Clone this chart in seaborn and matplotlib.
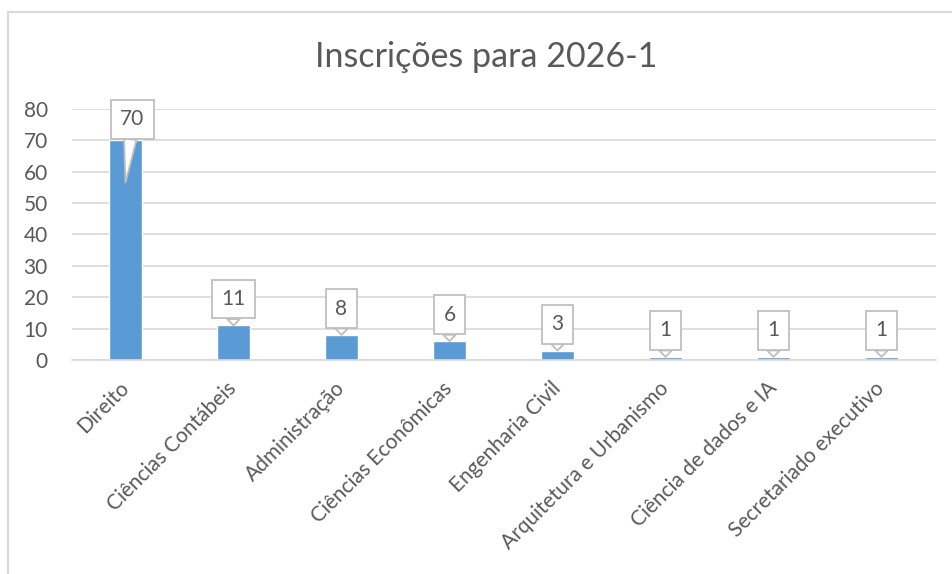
import matplotlib
matplotlib.use("Agg")
import matplotlib.pyplot as plt
from matplotlib.lines import Line2D
import seaborn as sns
import pandas as pd

cursos = [
    "Direito",
    "Ciências Contábeis",
    "Administração",
    "Ciências Econômicas",
    "Engenharia Civil",
    "Arquitetura e Urbanismo",
    "Ciência de dados e IA",
    "Secretariado executivo",
]
inscricoes = [70, 11, 8, 6, 3, 1, 1, 1]
y_ticks = [0, 10, 20, 30, 40, 50, 60, 70, 80]

TEXT = "#595959"
GRID = "#D9D9D9"
BAR = "#5B9BD5"

sns.set_style("white")
plt.rcParams["font.family"] = ["Lato", "DejaVu Sans"]

df = pd.DataFrame({"curso": cursos, "inscricoes": inscricoes})

fig = plt.figure(figsize=(9.52, 5.74), dpi=100)
ax = fig.add_axes([71.5 / 952, 1 - 360 / 574, 864 / 952, 251 / 574])

sns.barplot(data=df, x="curso", y="inscricoes", color=BAR, saturation=1,
            width=0.31, ax=ax)

ax.set_xlim(-0.5, len(cursos) - 0.5)
ax.set_ylim(0, 80)
ax.set_yticks(y_ticks)
ax.set_axisbelow(True)
ax.yaxis.grid(True, color=GRID, linewidth=1.2)
for side in ["top", "right", "left"]:
    ax.spines[side].set_visible(False)
ax.spines["bottom"].set_color(GRID)
ax.spines["bottom"].set_linewidth(1.2)
ax.set_xlabel("")
ax.set_ylabel("")
ax.tick_params(axis="y", length=0, pad=17, labelsize=15, labelcolor=TEXT)
ax.tick_params(axis="x", length=0, pad=18, labelsize=15, labelcolor=TEXT)
plt.setp(ax.get_xticklabels(), rotation=45, ha="right", va="center",
         rotation_mode="anchor")

# callout labels (Excel style)
for i, v in enumerate(inscricoes):
    if v == max(inscricoes):
        tip, off = v - 13.4, (5, 45.5)
    else:
        tip, off = v, (0, 19)
    ax.annotate(
        str(v), xy=(i, tip), xytext=off, textcoords="offset points",
        ha="center", va="center", fontsize=15, color=TEXT,
        bbox=dict(boxstyle="square,pad=0.45", fc="white", ec="#BFBFBF", lw=1.3),
        arrowprops=dict(arrowstyle="wedge,tail_width=0.6", fc="white",
                        ec="#BFBFBF", lw=1.3, shrinkA=0, shrinkB=0),
    )

fig.text(486 / 952, 1 - 57 / 574, "Inscrições para 2026-1", ha="center",
         va="center", fontsize=24.5, color=TEXT)

# chart area frame
x0, y0 = 8 / 952, 1 - 12 / 574
fig.add_artist(Line2D([x0, x0], [0, y0], transform=fig.transFigure,
                      color=GRID, lw=1.5))
fig.add_artist(Line2D([x0, 1], [y0, y0], transform=fig.transFigure,
                      color=GRID, lw=1.5))

fig.savefig("out.png", dpi=100)
